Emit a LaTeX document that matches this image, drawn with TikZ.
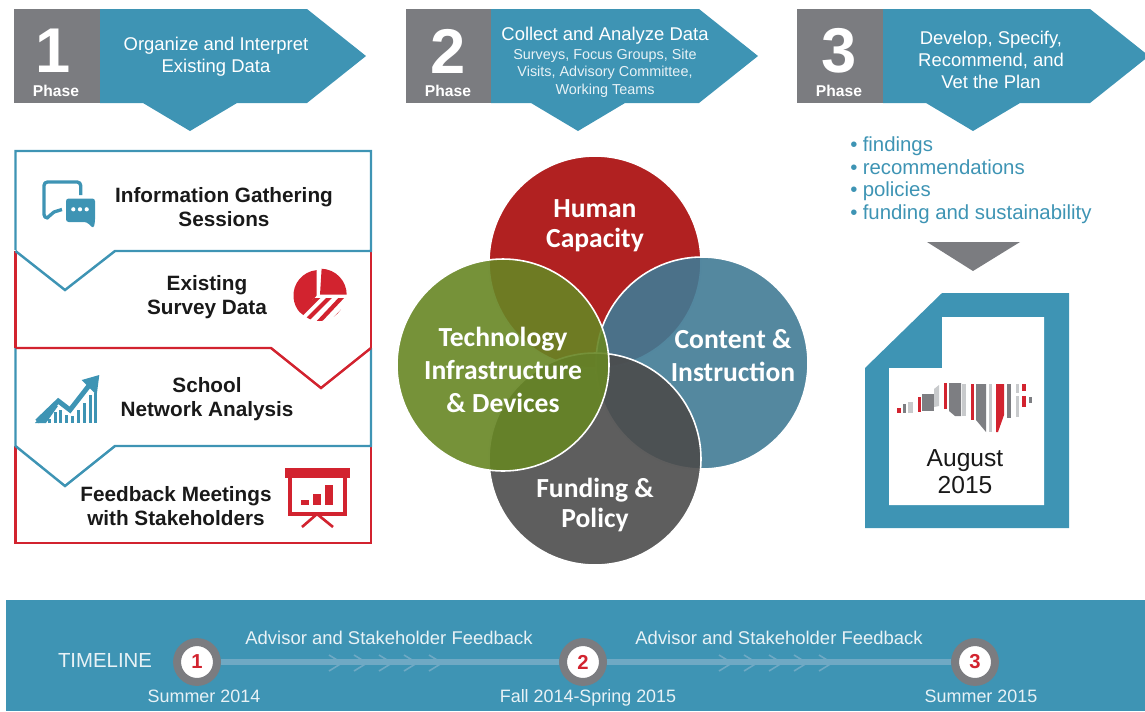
\documentclass[tikz,border=0pt]{standalone}
\usepackage{fontspec}
\setmainfont{Liberation Sans}
\newfontfamily\bubblefont{Carlito}
\usetikzlibrary{positioning}
\definecolor{tealblue}{HTML}{3E94B4}
\definecolor{phasegray}{HTML}{7B7C80}
\definecolor{framered}{HTML}{D2232F}
\definecolor{humanred}{HTML}{A90909}
\definecolor{contentblue}{HTML}{417B95}
\definecolor{fundinggray}{HTML}{4C4C4C}
\definecolor{techgreen}{HTML}{678624}
\definecolor{lineblue}{HTML}{6FA9C4}
\definecolor{mapgray}{HTML}{7D7E82}
\definecolor{maplight}{HTML}{C8CACC}
\tikzset{
  phasenum/.style={text=white,font=\fontsize{36}{36}\selectfont\bfseries,inner sep=0pt},
  phaselabel/.style={text=white,font=\fontsize{8.9}{10}\selectfont\bfseries,inner sep=0pt},
  phasetitle/.style={text=white,align=center,font=\fontsize{10.5}{12.3}\selectfont,inner sep=0pt},
  phasesmall/.style={text=white!88!tealblue,align=center,font=\fontsize{8.2}{10}\selectfont,inner sep=0pt},
  steplabel/.style={text=black!90,align=center,font=\fontsize{11.8}{13.7}\selectfont\bfseries,inner sep=0pt},
  bubblelabel/.style={text=white,align=center,font=\bubblefont\fontsize{15.7}{18.8}\selectfont\bfseries,inner sep=0pt},
  bubbletight/.style={text=white,align=center,font=\bubblefont\fontsize{15.7}{17.3}\selectfont\bfseries,inner sep=0pt},
  listlabel/.style={text=tealblue,anchor=base west,font=\fontsize{11.6}{13}\selectfont,inner sep=0pt},
  bandlabel/.style={text=white!88!tealblue,anchor=base,font=\fontsize{10.2}{12}\selectfont,inner sep=0pt},
  fblabel/.style={text=white!88!tealblue,anchor=base,font=\fontsize{10.5}{12}\selectfont,inner sep=0pt},
  tlcircle/.style={circle,draw=phasegray,line width=4.5pt,fill=white,minimum size=22.7pt,inner sep=0pt,text=framered,font=\fontsize{11.5}{12}\selectfont\bfseries},
  tlline/.style={lineblue,line width=3.4pt},
  chevron/.style={lineblue,line width=0.9pt},
  bluebox/.style={tealblue,line width=1.4pt,miter limit=10},
  redbox/.style={framered,line width=1.4pt},
  bubble/.style={white,line width=0.9pt,fill opacity=0.9}
}
\begin{document}
\begin{tikzpicture}[x=0.02cm,y=0.02cm]
\useasboundingbox (0,0) rectangle (1145,-711);
% phase headers
\fill [phasegray] (14,-9) rectangle (100,-103);
\fill [tealblue] (100,-9) -- (307,-9) -- (366,-56) -- (307,-103) -- (237,-103) -- (190,-131) -- (143,-103) -- (100,-103) -- cycle;
\node (numone) [phasenum] at (53,-51) {1};
\node (phaseone) [phaselabel] at (56,-91) {Phase};
\node (titleone) [phasetitle] at (216,-57) {Organize and Interpret\\Existing Data};
\fill [phasegray] (406,-9) rectangle (491,-103);
\fill [tealblue] (491,-9) -- (699,-9) -- (758,-56) -- (699,-103) -- (625,-103) -- (578,-131) -- (531,-103) -- (491,-103) -- cycle;
\node (numtwo) [phasenum] at (448,-51) {2};
\node (phasetwo) [phaselabel] at (448,-91) {Phase};
\node (titletwo) [phasetitle] at (605,-36) {Collect and Analyze Data};
\node (subtwo) [phasesmall] at (605,-73) {Surveys, Focus Groups, Site\\Visits, Advisory Committee,\\Working Teams};
\fill [phasegray] (797,-9) rectangle (883,-103);
\fill [tealblue] (883,-9) -- (1090,-9) -- (1149,-56) -- (1090,-103) -- (1020,-103) -- (973,-131) -- (926,-103) -- (883,-103) -- cycle;
\node (numthree) [phasenum] at (839,-51) {3};
\node (phasethree) [phaselabel] at (839,-91) {Phase};
\node (titlethree) [phasetitle] at (991,-60) {Develop, Specify,\\Recommend, and\\Vet the Plan};
% left column frames
\draw [redbox] (15.5,-251) -- (15.5,-348) (371,-251) -- (371,-348);
\draw [redbox] (15.5,-446) -- (15.5,-543) -- (371,-543) -- (371,-446);
\draw [bluebox] (15.5,-250) -- (15.5,-151) -- (371,-151) -- (371,-251) -- (115,-251) -- (65,-290) -- (15.5,-251);
\draw [bluebox] (15.5,-348) -- (15.5,-446) -- (65,-486) -- (115,-446) -- (371,-446) -- (371,-348);
\draw [redbox] (15.5,-348) -- (271,-348) -- (321,-388) -- (371,-348);
\node (infolabel) [steplabel] at (224,-207) {Information Gathering\\Sessions};
\node (surveylabel) [steplabel] at (207,-297) {Existing\\Survey Data};
\node (networklabel) [steplabel] at (207,-399) {School\\Network Analysis};
\node (feedbacklabel) [steplabel] at (176,-506) {Feedback Meetings\\with Stakeholders};
% chat icon
\draw [tealblue,line width=1.9pt,line join=round,rounded corners=2pt] (80.7,-195) -- (80.7,-182) -- (44,-182) -- (44,-218) -- (47,-218);
\draw [tealblue,line width=1.9pt,line join=round] (47,-218) -- (54,-212) -- (62,-209.5);
\fill [tealblue,rounded corners=1.5pt] (66,-198.5) -- (95,-198.5) -- (95,-222) -- (93.5,-228.5) -- (86.7,-222) -- (66,-222) -- cycle;
\fill [white] (73.3,-209.3) circle (2.1) (80,-209.3) circle (2.1) (86.7,-209.3) circle (2.1);
% pie icon
\fill [framered] (316.7,-295.5) -- (316.7,-270.1) arc (95:223:25.5) -- cycle;
\fill [framered] (320,-294.7) -- (346.7,-294.7) -- (346.7,-294.7) arc (0:88:26) -- cycle;
\begin{scope}
\clip (319.5,-295.5) circle (25.5);
\clip (290,-298.7) -- (348,-298.7) -- (348,-325) -- (290,-325) -- cycle;
\draw [framered,line width=2.4pt] (296.3,-319) -- (320.3,-295) (303,-324) -- (332,-295) (313,-328) -- (344,-295) (324,-330) -- (358,-295);
\end{scope}
% growth icon
\draw [tealblue,line width=2.8pt,line join=miter] (37,-421.5) -- (58.3,-401) -- (70,-410) -- (91,-383);
\fill [tealblue] (99.3,-375) -- (81.7,-380) -- (96.7,-395) -- cycle;
\fill [tealblue] (35,-423) -- (46,-423) -- (58,-406) -- (52,-404) -- cycle;
\fill [tealblue] (47.5,-423) rectangle (50.5,-419.3);
\fill [tealblue] (53.5,-423) rectangle (56.5,-411.7);
\fill [tealblue] (59.2,-423) rectangle (62.2,-410);
\fill [tealblue] (65.2,-423) rectangle (68.2,-415);
\fill [tealblue] (70.8,-423) rectangle (73.8,-416);
\fill [tealblue] (76.8,-423) rectangle (79.8,-410);
\fill [tealblue] (82.8,-423) rectangle (85.8,-403.3);
\fill [tealblue] (88.5,-423) rectangle (91.5,-395);
\fill [tealblue] (94.2,-423) rectangle (97.2,-393.3);
% screen icon
\fill [framered] (285,-468) rectangle (350,-478);
\draw [framered,line width=2.3pt] (290,-478) -- (290,-514) -- (345,-514) -- (345,-478);
\fill [framered] (301,-500) rectangle (309,-505);
\fill [framered] (313,-494) rectangle (321,-505);
\fill [framered] (325,-485) rectangle (333,-505);
\draw [framered,line width=1.5pt] (302,-527) -- (317,-514) -- (333,-527);
% four circles
\draw [bubble,fill=humanred] (595,-262) circle (106);
\draw [bubble,fill=contentblue] (702,-363) circle (106);
\draw [bubble,fill=fundinggray] (595,-459) circle (106);
\draw [bubble,fill=techgreen] (503,-365) circle (106);
\node (humanlabel) [bubbletight] at (595,-226) {Human\\Capacity};
\node (contentlabel) [bubblelabel] at (733,-356) {Content \&\\Instruction};
\node (fundinglabel) [bubbletight] at (595,-505) {Funding \&\\Policy};
\node (techlabel) [bubblelabel] at (503,-370) {Technology\\Infrastructure\\\& Devices};
% right column list
\node (findings) [listlabel] at (850,-151) {\textbullet\hspace{3pt}findings};
\node (recommendations) [listlabel] at (850,-174) {\textbullet\hspace{3pt}recommendations};
\node (policies) [listlabel] at (850,-196) {\textbullet\hspace{3pt}policies};
\node (funding) [listlabel] at (850,-219) {\textbullet\hspace{3pt}funding and sustainability};
\fill [phasegray] (927,-242) -- (1020,-242) -- (973,-271) -- cycle;
% report page
\fill [tealblue] (865,-368) -- (942,-293) -- (1069,-293) -- (1069,-528) -- (865,-528) -- cycle;
\fill [white] (889,-368) -- (942,-368) -- (942,-317) -- (1044,-317) -- (1044,-505) -- (889,-505) -- cycle;
\fill [framered] (897,-408) rectangle (901,-413);
\fill [mapgray] (903,-404) rectangle (906,-413);
\fill [maplight] (908,-402) rectangle (913,-413);
\fill [framered] (918,-397) rectangle (921,-412);
\fill [mapgray] (922,-394) rectangle (934,-411);
\fill [maplight] (934,-389) -- (939,-385) -- (939,-406) -- (934,-407) -- cycle;
\fill [framered] (944,-383) rectangle (947,-409);
\fill [mapgray] (949,-383) -- (961,-383) -- (961,-416) -- (955,-416) -- (949,-411) -- cycle;
\fill [maplight] (962,-384) rectangle (966,-416);
\fill [framered] (971,-384) rectangle (974,-420);
\fill [mapgray] (976,-384) -- (986,-384) -- (986,-432) -- (976,-420) -- cycle;
\fill [maplight] (989,-384) rectangle (992,-432);
\fill [framered] (996,-384) -- (1004,-384) -- (1004,-415) -- (998,-432) -- (996,-432) -- cycle;
\fill [mapgray] (1007,-384) rectangle (1011,-418);
\fill [maplight] (1016,-384) rectangle (1019,-393);
\fill [maplight] (1016,-396) rectangle (1019,-417);
\fill [framered] (1022,-384) rectangle (1026,-391);
\fill [framered] (1022,-396) rectangle (1026,-407);
\fill [mapgray] (1029,-397) rectangle (1032,-403);
\node (reportlabel) [text=black!90,align=center,font=\fontsize{14}{15.5}\selectfont,inner sep=0pt] at (965,-472) {August\\2015};
% timeline band
\fill [tealblue] (6,-600) rectangle (1145,-711);
\node (tlone) [tlcircle] at (197,-662) {1};
\node (tltwo) [tlcircle] at (583,-662) {2};
\node (tlthree) [tlcircle] at (975,-662) {3};
\draw [tlline] (tlone) -- (tltwo);
\draw [tlline] (tltwo) -- (tlthree);
\draw [chevron] (329,-655) -- (342,-663) -- (329,-671) (354,-655) -- (367,-663) -- (354,-671) (379,-655) -- (392,-663) -- (379,-671) (404,-655) -- (417,-663) -- (404,-671) (429,-655) -- (442,-663) -- (429,-671);
\draw [chevron] (719,-655) -- (732,-663) -- (719,-671) (744,-655) -- (757,-663) -- (744,-671) (769,-655) -- (782,-663) -- (769,-671) (794,-655) -- (807,-663) -- (794,-671) (819,-655) -- (832,-663) -- (819,-671);
\node (tllabel) [bandlabel,font=\fontsize{11.6}{12}\selectfont] at (105,-667) {TIMELINE};
\node (fbone) [fblabel] at (389,-644) {Advisor and Stakeholder Feedback};
\node (fbtwo) [fblabel] at (779,-644) {Advisor and Stakeholder Feedback};
\node (dateone) [bandlabel] at (204,-702) {Summer 2014};
\node (datetwo) [bandlabel] at (588,-702) {Fall 2014-Spring 2015};
\node (datethree) [bandlabel] at (981,-702) {Summer 2015};
\end{tikzpicture}
\end{document}
